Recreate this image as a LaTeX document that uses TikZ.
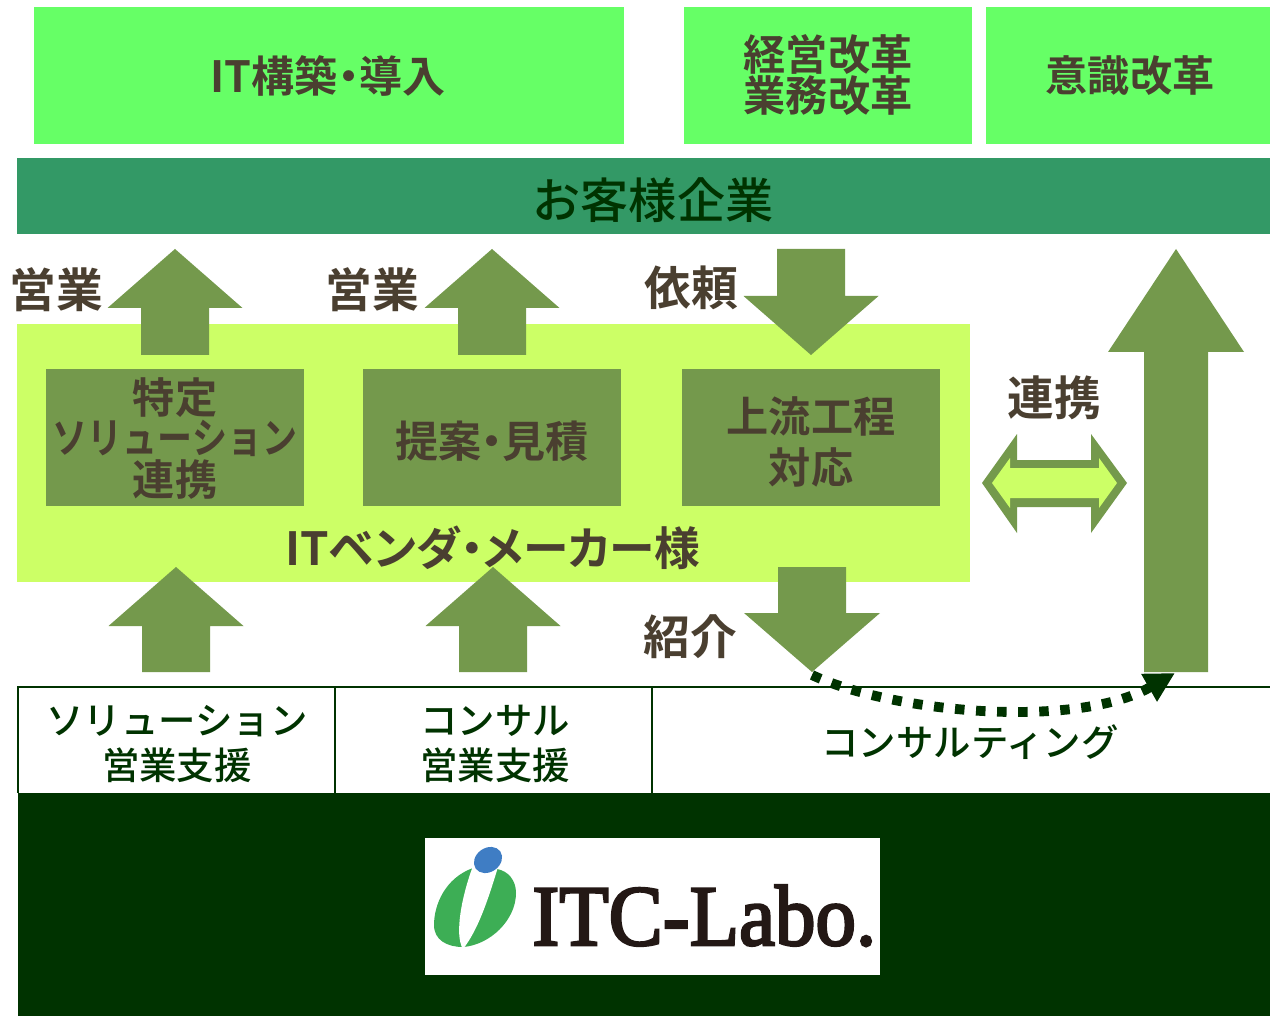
\documentclass[tikz,border=0pt]{standalone}
\usepackage{fontspec}
\usetikzlibrary{arrows.meta}
\setmainfont{Liberation Serif}
\newfontfamily\jpb{Noto Sans CJK JP Bold}
\newfontfamily\jpbp[RawFeature=+palt]{Noto Sans CJK JP Bold}
\newfontfamily\jpm{Noto Sans CJK JP Medium}
\newfontfamily\logofont[FakeBold=3]{Liberation Serif}
\definecolor{topgreen}{HTML}{66FF66}
\definecolor{band}{HTML}{339966}
\definecolor{lime}{HTML}{CCFF66}
\definecolor{olive}{HTML}{74994C}
\definecolor{deep}{HTML}{003300}
\definecolor{brownish}{HTML}{4A3F30}
\definecolor{logogreen}{HTML}{3DAE55}
\definecolor{logoblue}{HTML}{3F7DC4}
\definecolor{logoblack}{HTML}{231815}
\newcommand{\fsz}[2]{\fontsize{#1}{#2}\selectfont}
\tikzset{
  blocktxt/.style={text=brownish,align=center,inner sep=0pt,font=\jpb\fsz{24}{23.2}},
  labeltxt/.style={text=brownish,inner sep=0pt,font=\jpb\fsz{26.6}{28}},
  celltxt/.style={text=deep,align=center,inner sep=0pt,font=\jpm\fsz{21.3}{25.5}},
  blockarrow/.style={fill=olive,draw=none},
  tableline/.style={draw=deep,line width=1.2pt},
  flowline/.style={draw=deep,line width=5.6pt,dash pattern=on 5.4pt off 6.6pt,
     -{Triangle[length=17pt,width=17pt]}}
}
% up arrow: tip x, tip y, half head, half shaft, head y, bottom y
\newcommand{\uparr}[6]{\path[blockarrow] (#1,#2)--(#1+#3,#5)--(#1+#4,#5)--(#1+#4,#6)--(#1-#4,#6)--(#1-#4,#5)--(#1-#3,#5)--cycle;}
\begin{document}
\begin{tikzpicture}[x=0.02cm,y=-0.02cm]
\useasboundingbox (0,0) rectangle (1270,1016);
\fill[white] (0,0) rectangle (1270,1016);
% top boxes
\fill[topgreen] (34,7) rectangle (624,144);
\fill[topgreen] (684,7) rectangle (972,144);
\fill[topgreen] (986,7) rectangle (1270,144);
\node[blocktxt,font=\jpbp\fsz{24.5}{26}] (t1) at (328,76) {IT構築・導入};
\node[blocktxt] (t2) at (828,75) {経営改革\\業務改革};
\node[blocktxt] (t3) at (1130,76) {意識改革};
% customer band
\fill[band] (17,158) rectangle (1270,234);
\node[text=deep,inner sep=0pt,font=\jpm\fsz{27.4}{30}] (cust) at (653,200) {お客様企業};
% vendor panel
\fill[lime] (17,324) rectangle (970,582);
\fill[olive] (46,369) rectangle (304,506);
\fill[olive] (363,369) rectangle (621,506);
\fill[olive] (682,369) rectangle (940,506);
% arrows
\uparr{175}{249}{67.5}{34}{308}{355}
\uparr{492}{249}{67.5}{34}{308}{355}
\uparr{811}{355}{67.5}{34}{296}{249}
\uparr{176}{567}{67.5}{34}{626}{672}
\uparr{493}{567}{67.5}{34}{626}{672}
\uparr{812}{672}{68}{34}{613}{567}
\uparr{1176}{249}{68}{32}{352}{672}
% double arrow
\fill[olive] (982,483)--(1017,434)--(1017,460)--(1091,460)--(1091,434)--(1127,483)--(1091,533)--(1091,507)--(1017,507)--(1017,533)--cycle;
\fill[lime] (992,483)--(1010,458)--(1010,468)--(1099,468)--(1099,458)--(1117,483)--(1099,508)--(1099,498)--(1010,498)--(1010,508)--cycle;
% panel texts
\node[blocktxt] (b1a) at (175,398) {特定};
\node[blocktxt] (b1b) at (175,438) {\scalebox{0.83}[1]{ソリューション}};
\node[blocktxt] (b1c) at (175,480) {連携};
\node[blocktxt,font=\jpbp\fsz{24.5}{26}] (b2) at (492,441) {提案・見積};
\node[blocktxt] (b3a) at (811,416) {上流工程};
\node[blocktxt] (b3b) at (811,467) {対応};
\node[blocktxt,font=\jpbp\fsz{26}{28}] (vendor) at (493,548) {ITベンダ・メーカー様};
% labels
\node[labeltxt] (l1) at (56,290) {営業};
\node[labeltxt] (l2) at (372,290) {営業};
\node[labeltxt] (l3) at (691,288) {依頼};
\node[labeltxt] (l4) at (690,637) {紹介};
\node[labeltxt] (l5) at (1054,398) {連携};
% service table
\draw[tableline] (1270,687)--(18,687)--(18,793);
\draw[tableline] (335,687)--(335,793);
\draw[tableline] (652,687)--(652,793);
\node[celltxt] (c1) at (177,744) {ソリューション\\営業支援};
\node[celltxt] (c2) at (495,744) {コンサル\\営業支援};
\node[celltxt] (c3) at (970,742) {コンサルティング};
% base
\fill[deep] (18,793) rectangle (1270,1016);
\fill[white] (425,838) rectangle (880,975);
% logo mark
\fill[logogreen] (473,868) .. controls (445,878) and (434,905) .. (434,925)
   .. controls (434,940) and (447,947) .. (463,947)
   .. controls (490,945) and (516,920) .. (516,893)
   .. controls (516,880) and (508,871) .. (497,869) -- cycle;
\fill[white] (473,866) .. controls (462,895) and (454,935) .. (463,949)
   .. controls (478,930) and (488,900) .. (498,867) -- cycle;
\fill[logoblue,rotate around={35:(488,860)}] (488,860) ellipse [x radius=15, y radius=12];
\node[text=logoblack,inner sep=0pt,anchor=base west,font=\logofont\fsz{49}{50}] (logo) at (532,945) {\scalebox{0.94}[1]{ITC-Labo.}};
% flow
\coordinate (fa) at (812,675);
\coordinate (fb) at (1175,673);
\draw[flowline] (fa) .. controls (890,712) and (1075,730) .. (fb);
\end{tikzpicture}
\end{document}
